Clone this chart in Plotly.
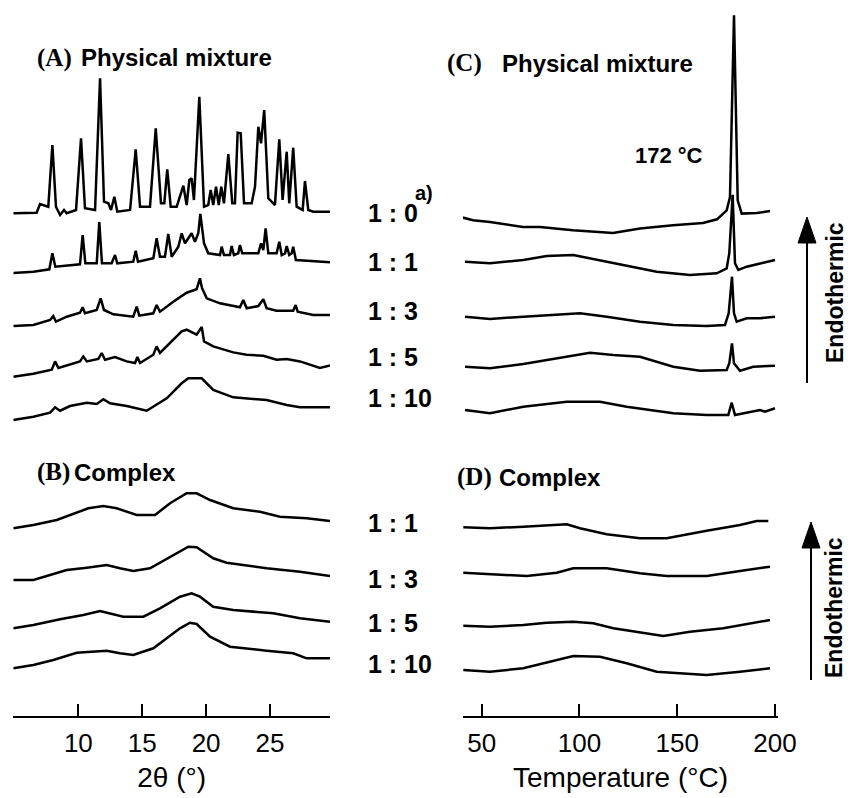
import plotly.graph_objects as go

# ---------------- DATA ----------------
# XRD, panel (A) physical mixture: 2theta (deg) and intensity (a.u.)
pm_1_0_tt = [4.91, 6.74, 7.00, 7.26, 7.65, 7.97, 8.25, 8.57, 8.88, 9.09, 9.82, 10.21, 10.52, 11.31, 11.70, 12.01,
             12.35, 12.56, 12.82, 13.05, 14.05, 14.49, 14.83, 15.61, 16.06, 16.47, 16.73, 16.96, 17.23, 17.70,
             18.22, 18.48, 18.69, 18.87, 19.05, 19.47, 19.84, 20.17, 20.36, 20.56, 20.78, 20.99, 21.19, 21.40,
             21.74, 22.05, 22.26, 22.47, 22.71, 22.97, 23.57, 23.83, 24.09, 24.30, 24.55, 24.87, 25.39, 25.73,
             25.99, 26.31, 26.51, 26.82, 27.09, 27.56, 27.74, 28.00, 28.39, 29.70]
pm_1_0_I = [0, 0.6, 9.3, 8.3, 6.6, 68.3, 6.6, -1.7, 3.3, 0, 3.3, 75, 5, 3.3, 135, 11.6,
            10, 3.3, 16.6, 1.6, 3.3, 64, 6.6, 6.6, 85, 10, 10, 44, 6.6, 6.6,
            27.6, 8.3, 33.3, 35, 13.3, 116.6, 6.6, 8.3, 23.3, 8.3, 26.6, 8.3, 26.6, 10,
            59.3, 10, 10, 80.6, 80, 10, 10, 26.6, 86.6, 70, 103.3, 15, 8.3, 74,
            13.3, 61.6, 10, 65.6, 6.6, 3.3, 32.3, 3.3, 1.6, 1.6]

pm_1_1_tt = [4.91, 6.48, 7.73, 7.97, 8.20, 10.13, 10.34, 10.55, 11.44, 11.64, 11.85, 12.61, 12.87, 13.05,
             14.30, 14.49, 14.67, 15.87, 16.13, 16.39, 16.78, 17.04, 17.31, 17.83, 18.09, 18.35, 18.87, 19.13,
             19.39, 19.55, 19.84, 20.17, 21.09, 21.22, 21.40, 21.87, 22.00, 22.18, 22.52, 22.65, 22.83, 24.09,
             24.30, 24.48, 24.66, 24.87, 25.52, 25.73, 25.92, 26.18, 26.31, 26.51, 26.70, 26.82, 27.03, 29.70]
pm_1_1_I = [0, 1.3, 3.7, 19.7, 6.3, 8.7, 38, 9.7, 9.7, 51, 9.7, 9.7, 18, 9.7,
            11.3, 22.3, 11.3, 14.7, 34.7, 16.3, 16.3, 39, 16.3, 26.3, 39.7, 29.7, 39.7, 31.3,
            39.7, 59, 29.7, 19.7, 18, 26.3, 18, 18, 27, 18, 19.7, 28, 19.7, 19.7,
            29.7, 23, 44.7, 19.7, 19.7, 31.3, 18, 19.7, 27, 18, 19.7, 26.3, 13, 10.7]

pm_1_3_tt = [4.91, 6.48, 7.79, 8.04, 8.25, 9.09, 10.13, 10.34, 10.52, 11.44, 11.75, 12.01, 12.74, 14.30,
             14.57, 14.77, 15.87, 16.13, 16.39, 17.43, 18.48, 19.26, 19.52, 19.68, 20.05, 21.09, 22.65, 22.91,
             23.18, 24.09, 24.48, 24.74, 25.52, 26.82, 27.01, 27.17, 28.39, 29.70]
pm_1_3_I = [0, 1, 6, 10, 4.3, 9.3, 13.3, 18.7, 12.7, 16, 27.7, 16, 11.7, 9.3,
            19.3, 10.3, 12.7, 21, 14.3, 24.3, 33.3, 36.7, 47.7, 38, 27.7, 22.7, 18.7, 26,
            17.7, 20, 26.7, 17.7, 15.3, 15.3, 21, 14.3, 11, 11]

pm_1_5_tt = [4.91, 6.48, 7.92, 8.18, 8.44, 10.13, 10.39, 10.66, 11.56, 11.83, 12.09, 12.87, 13.79, 14.44,
             14.62, 14.83, 15.87, 16.13, 16.39, 17.18, 18.09, 18.48, 19.26, 19.66, 19.84, 20.56, 22.13, 23.18,
             24.48, 25.52, 26.31, 27.35, 28.91, 29.70]
pm_1_5_I = [0, 3, 7, 15.3, 8.7, 15.3, 20.3, 15.3, 17.7, 23.7, 17, 19.7, 15.3, 13.7,
            19.7, 13.7, 22, 30.3, 23.7, 33.7, 45.3, 47, 42, 49.7, 35.3, 30.3, 24.3, 22,
            21, 17, 17.7, 15.3, 8.7, 11.3]

pm_1_10_tt = [4.91, 6.48, 7.79, 8.18, 8.57, 9.35, 10.66, 11.44, 11.96, 12.48, 13.79, 15.35, 16.92, 18.09,
              18.61, 19.66, 20.56, 22.13, 24.74, 26.31, 27.35, 29.70]
pm_1_10_I = [0, 3.3, 7.3, 12.7, 9.3, 14, 17.3, 16, 20.7, 16.7, 14, 9.3, 21.7, 36.7,
             41.7, 41.7, 30, 22.7, 20, 15, 12.7, 12.7]

# XRD, panel (B) complex
cx_1_1_tt = [4.91, 6.48, 8.31, 9.61, 10.78, 11.96, 13.00, 14.57, 16.00, 17.18, 18.48, 19.26, 20.31, 22.13,
             24.22, 25.78, 27.87, 29.70]
cx_1_1_I = [0, 3.3, 8.3, 14.3, 20, 22.3, 20, 13.3, 13.3, 25, 35, 35, 28.3, 20, 16.6, 11.6, 10, 7.3]

cx_1_3_tt = [4.91, 6.48, 7.79, 9.09, 10.66, 12.22, 13.26, 14.30, 15.61, 17.18, 18.61, 19.26, 20.56, 21.61,
             24.74, 27.35, 29.70]
cx_1_3_I = [0, 0, 5, 10, 12.3, 15, 11.7, 9, 11.7, 23.3, 33.3, 32.7, 21.7, 17.3, 11.7, 8.3, 4]

cx_1_5_tt = [4.91, 6.48, 8.57, 10.39, 11.70, 13.52, 15.09, 16.39, 17.96, 18.87, 19.52, 20.56, 22.13, 25.26,
             27.35, 29.70]
cx_1_5_I = [0, 3.3, 9, 13.3, 17.3, 11.6, 11.6, 20, 31.6, 35, 31.6, 21.6, 18.3, 15, 10, 6.6]

cx_1_10_tt = [4.91, 6.48, 8.04, 9.87, 12.22, 13.26, 14.30, 15.87, 16.92, 17.96, 18.74, 19.26, 20.31, 21.87,
              24.74, 26.82, 27.87, 29.70]
cx_1_10_I = [0, 3.3, 8.3, 15.6, 17.6, 15, 13.3, 20, 30, 40, 45.6, 44.3, 31.6, 21.6, 17.6, 15, 10, 10]

# DSC, panel (C) physical mixture: temperature (degC) and heat flow (a.u.)
dsc_pm_1_0_T = [39.77, 45.55, 54.24, 71.12, 79.81, 96.69, 117.15, 130.95, 147.83, 163.17, 170.33, 175.29,
                176.98, 179.03, 180.92, 182.96, 190.63, 197.44]
dsc_pm_1_0_Q = [0, -3, -4.7, -9.7, -9.7, -13, -15.7, -11.3, -8, -5.7, -2, 7, 20.3, 202, 17, 3.7, 4.3, 6.3]

dsc_pm_1_1_T = [41.46, 54.24, 71.27, 83.24, 96.84, 105.38, 122.41, 139.50, 156.53, 170.18, 175.29, 176.62,
                178.34, 179.54, 181.23, 185.52, 194.01, 199.99]
dsc_pm_1_1_Q = [0, -1.6, 1.7, 5.7, 6.7, 3.4, -3.3, -10, -13.3, -11.6, -6.6, 8.4, 67, -1.6, -8.3, -5, -1, 1.7]

dsc_pm_1_3_T = [41.46, 54.24, 71.27, 84.93, 100.27, 113.93, 130.95, 147.99, 165.06, 174.42, 176.31, 178.00,
                179.03, 180.41, 185.52, 192.32, 199.99]
dsc_pm_1_3_Q = [0, -2.3, 0, 1.7, 3.4, 0, -5, -8.3, -9.3, -8.3, 3.4, 40, 3.4, -5, -1.6, -1.6, 0]

dsc_pm_1_5_T = [41.46, 54.24, 71.27, 88.36, 105.38, 117.30, 130.95, 147.99, 161.64, 175.29, 176.62, 178.00,
                179.03, 182.10, 188.89, 199.99]
dsc_pm_1_5_Q = [0, -1.6, 2.7, 8.4, 14, 11.7, 10, 0, -4, -3.3, 3.4, 23.4, 3.4, -4, 0, 1]

dsc_pm_1_10_T = [41.46, 54.24, 71.27, 93.47, 110.50, 124.15, 147.99, 165.06, 176.11, 177.85, 179.54, 185.52,
                 192.32, 194.88, 199.99]
dsc_pm_1_10_Q = [0, -3.3, 3.3, 8.3, 8.3, 3.3, -3.3, -5, -5, 7.3, -5, -2.7, 0, -1.7, 1.7]

# DSC, panel (D) complex
dsc_cx_1_1_T = [40.59, 54.24, 71.27, 93.47, 100.27, 113.93, 130.95, 144.61, 165.06, 182.10, 190.63, 196.57]
dsc_cx_1_1_Q = [0, -1, 0.6, 3, -1, -7, -11, -11, -3.4, 2.3, 6.3, 6.3]

dsc_cx_1_3_T = [40.59, 54.24, 73.01, 88.36, 96.84, 113.93, 130.95, 144.61, 165.06, 182.10, 197.44]
dsc_cx_1_3_Q = [0, -1.3, -3.3, 0, 4.4, 4.4, -0.6, -3.3, -3.3, 1.7, 6]

dsc_cx_1_5_T = [40.59, 54.24, 71.27, 83.24, 96.84, 107.07, 117.30, 130.95, 142.87, 156.53, 173.55, 197.44]
dsc_cx_1_5_Q = [0, -1, 0.7, 3, 4, 2.4, -2.6, -7, -10.3, -6, -2.6, 5.7]

dsc_cx_1_10_T = [40.59, 54.24, 71.27, 84.93, 96.84, 110.50, 124.15, 139.50, 151.41, 165.06, 182.10, 197.44]
dsc_cx_1_10_Q = [0, -1.7, 1.7, 8.3, 14, 13.3, 6.7, -1.7, -3.3, -5, -1.7, 1.7]

ratio_labels_pm = ["1 : 0", "1 : 1", "1 : 3", "1 : 5", "1 : 10"]
ratio_labels_cx = ["1 : 1", "1 : 3", "1 : 5", "1 : 10"]
xrd_ticks = [10, 15, 20, 25]
dsc_ticks = [50, 100, 150, 200]

# ---------------- LAYOUT CONSTANTS ----------------
W, H = 850, 798
AXIS_PX = 716  # pixel row of both bottom axes


def px(x):
    return x / W


def py(y):
    return 1 - y / H


# vertical stacking offsets (a.u.) of the traces
off_A = [502.7, 443, 390, 339.3, 296]
off_B = [187.7, 136, 87.7, 47.7]
off_C = [498.7, 454.3, 399.3, 349.3, 306]
off_D = [188.7, 143.3, 90.3, 46]

xrd_series = [(pm_1_0_tt, pm_1_0_I), (pm_1_1_tt, pm_1_1_I), (pm_1_3_tt, pm_1_3_I),
              (pm_1_5_tt, pm_1_5_I), (pm_1_10_tt, pm_1_10_I),
              (cx_1_1_tt, cx_1_1_I), (cx_1_3_tt, cx_1_3_I), (cx_1_5_tt, cx_1_5_I), (cx_1_10_tt, cx_1_10_I)]
dsc_series = [(dsc_pm_1_0_T, dsc_pm_1_0_Q), (dsc_pm_1_1_T, dsc_pm_1_1_Q), (dsc_pm_1_3_T, dsc_pm_1_3_Q),
              (dsc_pm_1_5_T, dsc_pm_1_5_Q), (dsc_pm_1_10_T, dsc_pm_1_10_Q),
              (dsc_cx_1_1_T, dsc_cx_1_1_Q), (dsc_cx_1_3_T, dsc_cx_1_3_Q), (dsc_cx_1_5_T, dsc_cx_1_5_Q),
              (dsc_cx_1_10_T, dsc_cx_1_10_Q)]
xrd_names = ["PM 1:0", "PM 1:1", "PM 1:3", "PM 1:5", "PM 1:10", "Complex 1:1", "Complex 1:3",
             "Complex 1:5", "Complex 1:10"]

LINE = dict(color="black", width=2.5)
fig = go.Figure()
for (xs, ys), off, name in zip(xrd_series, off_A + off_B, xrd_names):
    assert len(xs) == len(ys)
    fig.add_trace(go.Scatter(x=xs, y=[v + off for v in ys], mode="lines", line=LINE, name=name,
                             xaxis="x", yaxis="y", showlegend=False, hoverinfo="skip"))
for (xs, ys), off, name in zip(dsc_series, off_C + off_D, xrd_names):
    assert len(xs) == len(ys)
    fig.add_trace(go.Scatter(x=xs, y=[v + off for v in ys], mode="lines", line=LINE, name=name,
                             xaxis="x2", yaxis="y2", showlegend=False, hoverinfo="skip"))

SANS = "Liberation Sans, Arial, sans-serif"
SERIF = "Liberation Serif, Times New Roman, serif"

axis_common = dict(showgrid=False, zeroline=False, showline=True, linecolor="black", linewidth=2,
                   ticks="inside", ticklen=12, tickwidth=2, tickcolor="black", automargin=False,
                   tickfont=dict(family=SANS, size=26, color="black"), ticklabelstandoff=3)

ydom = [(H - AXIS_PX) / H, 1.0]
fig.update_layout(
    width=W, height=H, margin=dict(l=0, r=0, t=0, b=0, pad=0), autosize=False,
    paper_bgcolor="white", plot_bgcolor="white",
    xaxis=dict(domain=[px(13.3), px(330)], range=[4.91, 29.70], tickvals=xrd_ticks, anchor="y",
               title=dict(text="2θ (°)", font=dict(family=SANS, size=28, color="black"), standoff=10),
               **axis_common),
    yaxis=dict(domain=ydom, range=[0, AXIS_PX], visible=False, anchor="x"),
    xaxis2=dict(domain=[px(463), px(778)], range=[40.44, 201.53], tickvals=dsc_ticks, anchor="y2",
                title=dict(text="Temperature (°C)", font=dict(family=SANS, size=28, color="black"), standoff=10),
                **axis_common),
    yaxis2=dict(domain=ydom, range=[0, AXIS_PX], visible=False, anchor="x2"),
)

ann = []


def add_text(text, x, y, size, family=SANS, xanchor="left", textangle=0):
    ann.append(dict(text=text, x=px(x), y=py(y), xref="paper", yref="paper", showarrow=False,
                    xanchor=xanchor, yanchor="middle", textangle=textangle,
                    font=dict(family=family, size=size, color="black")))


# panel titles
add_text("<b>(A)</b>", 35, 58, 25, SERIF)
add_text("<b>Physical mixture</b>", 79, 58, 24)
add_text("<b>(B)</b>", 35, 472, 25, SERIF)
add_text("<b>Complex</b>", 72, 472, 24)
add_text("<b>(C)</b>", 445, 63, 25, SERIF)
add_text("<b>Physical mixture</b>", 500, 63, 24)
add_text("<b>(D)</b>", 455, 477, 25, SERIF)
add_text("<b>Complex</b>", 497, 477, 24)

# ratio labels
for lab, yy in zip(ratio_labels_pm, [213, 262, 311, 357, 398]):
    add_text("<b>" + lab + "</b>", 366, yy, 25)
for lab, yy in zip(ratio_labels_cx, [523, 579, 623, 664]):
    add_text("<b>" + lab + "</b>", 366, yy, 25)
add_text("<b>a)</b>", 413, 193, 20)

# melting point label
add_text("<b>172 °C</b>", 669, 155, 22, xanchor="center")

# endothermic labels
add_text("<b>Endothermic</b>", 835, 293, 23, xanchor="center", textangle=-90)
add_text("<b>Endothermic</b>", 834, 608, 23, xanchor="center", textangle=-90)
fig.update_layout(annotations=ann)

# arrows
shapes = []
for ax, tip, base, bottom in [(807, 217, 243, 383), (811, 522, 548, 680)]:
    shapes.append(dict(type="line", xref="paper", yref="paper", x0=px(ax), x1=px(ax), y0=py(base - 2),
                       y1=py(bottom), line=dict(color="black", width=2)))
    path = "M {a},{b} L {c},{d} L {e},{d} Z".format(a=px(ax), b=py(tip), c=px(ax - 9), d=py(base),
                                                    e=px(ax + 9))
    shapes.append(dict(type="path", xref="paper", yref="paper", path=path, fillcolor="black",
                       line=dict(color="black", width=1)))
fig.update_layout(shapes=shapes)

fig.write_html("out.html", config={"displayModeBar": False},
               post_script="document.body.style.margin='0';document.body.style.overflow='hidden';")
